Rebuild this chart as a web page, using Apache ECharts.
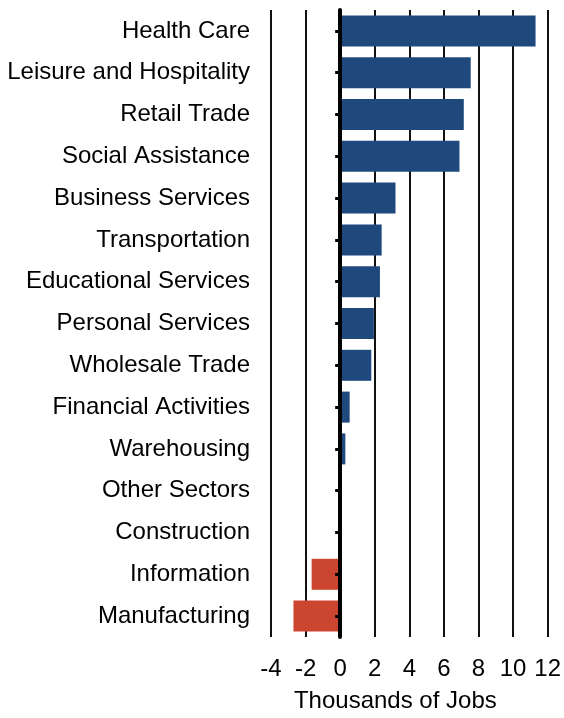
<!DOCTYPE html>
<html>
<head>
<meta charset="utf-8">
<script src="https://cdn.jsdelivr.net/npm/echarts@6/dist/echarts.min.js"></script>
<style>
html,body{margin:0;padding:0;background:#fff;}
#chart{width:564px;height:718px;}
</style>
</head>
<body>
<div id="chart"></div>
<script>
const categories = ["Health Care","Leisure and Hospitality","Retail Trade","Social Assistance","Business Services","Transportation","Educational Services","Personal Services","Wholesale Trade","Financial Activities","Warehousing","Other Sectors","Construction","Information","Manufacturing"];
const jobs = [11.3, 7.55, 7.15, 6.9, 3.2, 2.4, 2.3, 1.95, 1.8, 0.55, 0.3, -0.04, 0.01, -1.65, -2.7];
const xTicks = [-4, 12, 2];

const chart = echarts.init(document.getElementById('chart'));
const font = '"Liberation Sans", Arial, sans-serif';
chart.setOption({
  animation: false,
  grid: {left: 271, right: 13, top: 10, bottom: 76, containLabel: false},
  xAxis: {
    type: 'value', min: xTicks[0], max: xTicks[1], interval: xTicks[2],
    axisLine: {show: false}, axisTick: {show: false},
    splitLine: {show: true, lineStyle: {color: '#111', width: 2}},
    axisLabel: {color: '#000', fontSize: 24, fontFamily: font, margin: 20},
    name: 'Thousands of Jobs', nameLocation: 'middle', nameGap: 52,
    nameTextStyle: {color: '#000', fontSize: 24, fontFamily: font, padding: [0, 28, 0, 0]}
  },
  yAxis: [{
    type: 'category', inverse: true, data: categories, position: 'left',
    axisLine: {show: false, onZero: false}, axisTick: {show: false},
    axisLabel: {color: '#000', fontSize: 24, fontFamily: font, margin: 21}
  }, {
    type: 'category', inverse: true, data: categories, position: 'left', z: 10,
    axisLine: {show: true, onZero: true, onZeroAxisIndex: 0, lineStyle: {color: '#000', width: 4}},
    axisTick: {show: true, alignWithLabel: true, length: 5, lineStyle: {color: '#000', width: 3}},
    axisLabel: {show: false}, splitLine: {show: false}
  }],
  series: [{
    type: 'bar', yAxisIndex: 0, data: jobs, barWidth: 31,
    itemStyle: {color: p => p.value < 0 ? '#cc4530' : '#1f497d'}
  }]
});
</script>
</body>
</html>
